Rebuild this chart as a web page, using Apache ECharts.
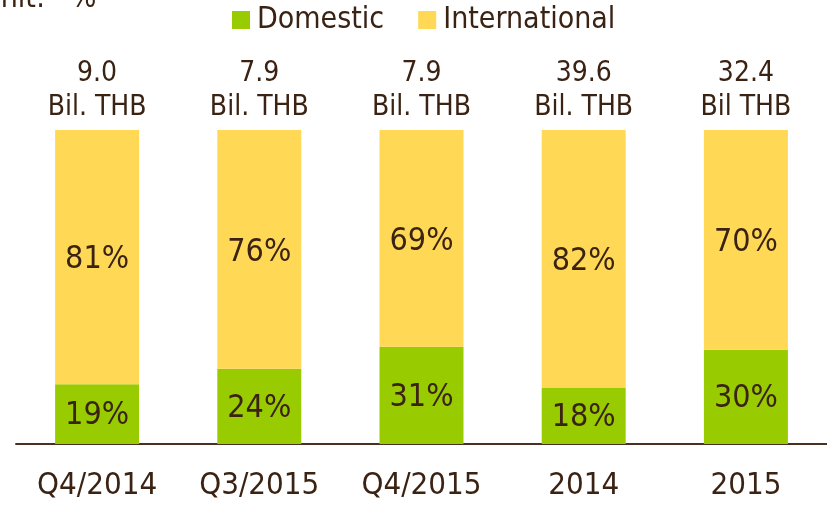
<!DOCTYPE html>
<html><head><meta charset="utf-8">
<script src="https://cdn.jsdelivr.net/npm/echarts@6/dist/echarts.min.js"></script>
<style>html,body{margin:0;padding:0;background:#fff}#c{width:827px;height:512px}</style>
</head><body><div id="c"></div>
<script>
const categories = ['Q4/2014', 'Q3/2015', 'Q4/2015', '2014', '2015'];
const domestic = [19, 24, 31, 18, 30];
const international = [81, 76, 69, 82, 70];
const totals = ['9.0', '7.9', '7.9', '39.6', '32.4'];
const units = ['Bil. THB', 'Bil. THB', 'Bil. THB', 'Bil. THB', 'Bil THB'];

const FONT = "'DejaVu Sans Condensed', 'DejaVu Sans', sans-serif";
const TXT = '#3b2314';
const chart = echarts.init(document.getElementById('c'), null, {renderer: 'canvas'});
chart.setOption({
  animation: false,
  textStyle: {fontFamily: FONT, color: TXT},
  graphic: [{
    type: 'text', x: -19, y: -1, z: 100,
    style: {text: 'Unit:   %', fontSize: 30, fontFamily: FONT, fill: TXT, align: 'left', verticalAlign: 'middle'}
  }],
  legend: {
    data: ['Domestic', 'International'],
    left: 227, top: 0,
    itemWidth: 18, itemHeight: 18, itemGap: 34,
    icon: 'rect',
    textStyle: {fontSize: 30, color: TXT, fontFamily: FONT, padding: [0, 0, 0, 2]}
  },
  grid: {left: 16, right: 0, top: 130, bottom: 68, containLabel: false},
  xAxis: [{
    type: 'category', data: categories, position: 'bottom',
    axisLine: {lineStyle: {color: '#4a3022', width: 2}},
    axisTick: {show: false},
    axisLabel: {fontSize: 31, color: TXT, margin: 26, fontFamily: FONT}
  }, {
    type: 'category', data: categories.map((c, i) => totals[i] + '\n' + units[i]),
    position: 'top',
    axisLine: {show: false}, axisTick: {show: false},
    axisLabel: {fontSize: 28, color: TXT, margin: 5, lineHeight: 34, fontFamily: FONT}
  }],
  yAxis: {type: 'value', min: 0, max: 100, show: false},
  series: [{
    name: 'Domestic', type: 'bar', stack: 's', data: domestic, barWidth: 84,
    itemStyle: {color: '#99cc00'},
    label: {show: true, position: 'inside', offset: [0, 2], formatter: '{c}%', fontSize: 32, color: TXT, fontFamily: FONT}
  }, {
    name: 'International', type: 'bar', stack: 's', data: international, barWidth: 84,
    itemStyle: {color: '#ffd955'},
    label: {show: true, position: 'inside', offset: [0, 3], formatter: '{c}%', fontSize: 32, color: TXT, fontFamily: FONT}
  }]
});
</script></body></html>
